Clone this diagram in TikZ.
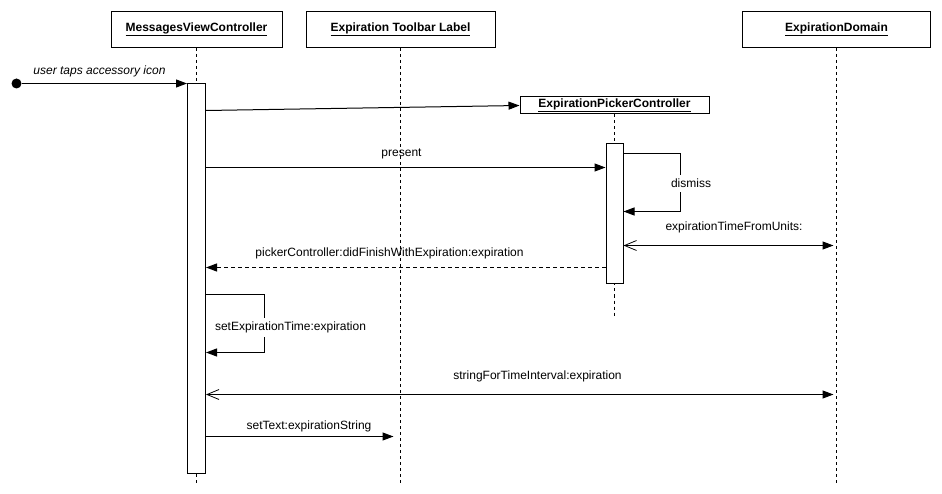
\documentclass[tikz,border=0pt]{standalone}
\usepackage{fontspec}
\setmainfont{Liberation Sans}
\usetikzlibrary{arrows.meta}
\begin{document}
\begin{tikzpicture}[x=1pt,y=-1pt,
  font=\fontsize{12}{14}\selectfont,
  hdr/.style={draw, line width=1pt, inner sep=0pt, font=\fontsize{12}{14}\selectfont\bfseries},
  actbox/.style={draw, fill=white, line width=1pt, inner sep=0pt, anchor=north},
  life/.style={line width=1pt, dash pattern=on 3pt off 3pt},
  filledtip/.style={-{Triangle[length=11pt,width=8pt]}},
  msg/.style={line width=1pt, filledtip},
  dmsg/.style={line width=1pt, filledtip, dash pattern=on 4pt off 3pt},
  bimsg/.style={line width=1pt, {Straight Barb[length=12pt,width=10pt,line width=0.8pt]}-{Triangle[length=11pt,width=8pt]}},
  lbl/.style={inner sep=1pt},
  looplbl/.style={fill=white, inner sep=4pt}
]
\useasboundingbox (0,0) rectangle (942,494);
\begin{scope}[shift={(0.5pt,-0.5pt)}]

% headers
\node[hdr, minimum width=171pt, minimum height=36pt] (mvc) at (196,29) {\underline{MessagesViewController}};
\node[hdr, minimum width=189pt, minimum height=36pt] (etl) at (400,29) {\underline{Expiration Toolbar Label}};
\node[hdr, minimum width=188pt, minimum height=36pt] (ed) at (836,29) {\underline{ExpirationDomain}};
\node[hdr, minimum width=189pt, minimum height=17pt] (epc) at (614,105) {\underline{ExpirationPickerController}};

% lifeline ends
\coordinate (mvcend) at (196,482);
\coordinate (etlend) at (400,482);
\coordinate (edend) at (836,482);
\coordinate (epcend) at (614,316);

\draw[life] (mvc.south) -- (mvcend);
\draw[life] (etl.south) -- (etlend);
\draw[life] (ed.south) -- (edend);
\draw[life] (epc.south) -- (epcend);

% activations
\node[actbox, minimum width=18pt, minimum height=389pt] (amvc) at (196,83) {};
\node[actbox, minimum width=17pt, minimum height=140pt] (aepc) at (614,143) {};

% row levels
\coordinate (y110) at (0,110);
\coordinate (y153) at (0,153);
\coordinate (y167) at (0,167);
\coordinate (y211) at (0,211);
\coordinate (y245) at (0,245);
\coordinate (y267) at (0,267);
\coordinate (y294) at (0,294);
\coordinate (y352) at (0,352);
\coordinate (y394) at (0,394);
\coordinate (y436) at (0,436);

% loop corners
\coordinate (dA) at (680,153);
\coordinate (dB) at (680,211);
\coordinate (sA) at (264,294);
\coordinate (sB) at (264,352);

% message ends on lifelines
\coordinate (edtip1) at (833,245);
\coordinate (edtip2) at (833,394);
\coordinate (etltip) at (393,436);

% start
\node[circle, fill=black, inner sep=0pt, minimum size=10pt] (start) at (16,83) {};
\draw[msg] (start) -- (amvc.north west);
\node[lbl, font=\fontsize{12}{14}\selectfont\itshape] (l0) at (99,71) {user taps accessory icon};

% create
\draw[msg] (amvc.east |- y110) -- (epc.west);

% present
\draw[msg] (amvc.east |- y167) -- (aepc.west |- y167);
\node[lbl] (l1) at (401,153) {present};

% dismiss loop
\draw[msg] (aepc.east |- y153) -- (dA) -- (dB) -- (aepc.east |- y211);
\node[looplbl] (l2) at (690.5,183) {dismiss};

% expirationTimeFromUnits
\draw[bimsg] (aepc.east |- y245) -- (edtip1);
\node[lbl] (l3) at (733.5,227) {expirationTimeFromUnits:};

% return
\draw[dmsg] (aepc.west |- y267) -- (amvc.east |- y267);
\node[lbl] (l4) at (389,253) {pickerController:didFinishWithExpiration:expiration};

% setExpirationTime loop
\draw[msg] (amvc.east |- y294) -- (sA) -- (sB) -- (amvc.east |- y352);
\node[looplbl] (l5) at (290,327) {setExpirationTime:expiration};

% stringForTimeInterval
\draw[bimsg] (amvc.east |- y394) -- (edtip2);
\node[lbl] (l6) at (537,376) {stringForTimeInterval:expiration};

% setText
\draw[msg] (amvc.east |- y436) -- (etltip);
\node[lbl] (l7) at (308.5,426) {setText:expirationString};

\end{scope}
\end{tikzpicture}
\end{document}
